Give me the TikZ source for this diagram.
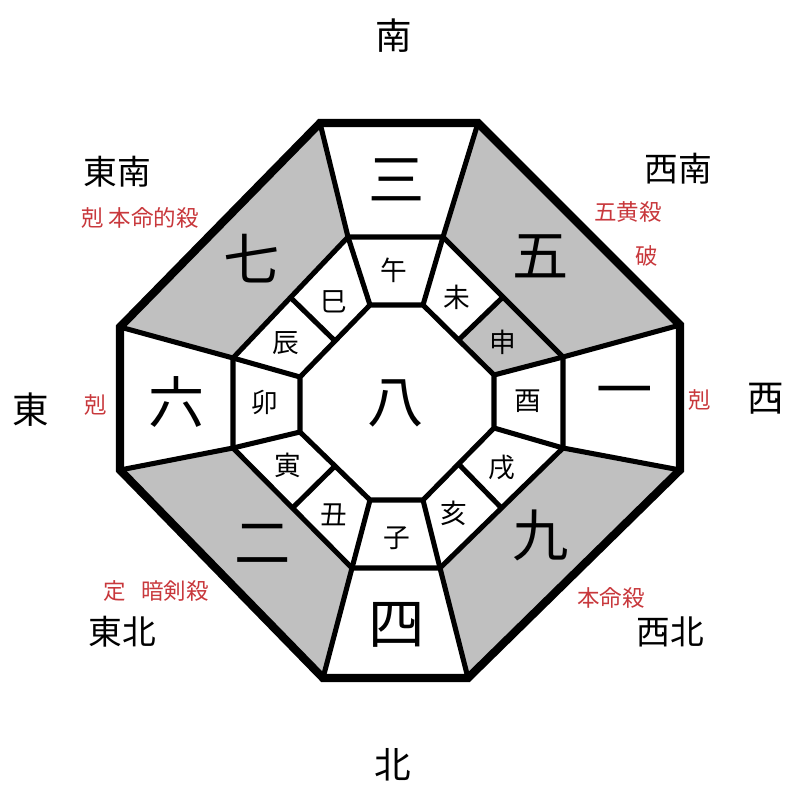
\documentclass[tikz,border=0pt]{standalone}
\usepackage{fontspec}
\setmainfont{Noto Sans CJK JP}
\usepackage{xcolor}
\usepackage{tikz}
\usetikzlibrary{calc}
\definecolor{sectorgray}{HTML}{C0C0C0}
\definecolor{warnred}{HTML}{C8383C}

\begin{document}
\begin{tikzpicture}[x=0.025cm,y=-0.025cm,
  dir/.style={font=\fontsize{26}{26}\selectfont,inner sep=0pt},
  corner/.style={font=\fontsize{24}{24}\selectfont,inner sep=0pt},
  star/.style={font=\fontsize{40}{40}\selectfont,inner sep=0pt},
  branch/.style={font=\fontsize{19}{19}\selectfont,inner sep=0pt},
  note/.style={font=\fontsize{16}{16}\selectfont,text=warnred,inner sep=0pt},
  rim/.style={line width=5.8pt},
  wall/.style={line width=3.6pt},
]
\useasboundingbox (0,0) rectangle (800,800);

% outer octagon
\coordinate (o1) at (320,123); \coordinate (o2) at (478,123);
\coordinate (o3) at (680,325); \coordinate (o4) at (680,470);
\coordinate (o5) at (468,678); \coordinate (o6) at (323,678);
\coordinate (o7) at (120,470); \coordinate (o8) at (120,327);
% middle octagon
\coordinate (m1) at (348,237); \coordinate (m2) at (443,237);
\coordinate (m3) at (563,357); \coordinate (m4) at (563,448);
\coordinate (m5) at (440,568); \coordinate (m6) at (352,568);
\coordinate (m7) at (233,448); \coordinate (m8) at (233,358);
% inner octagon
\coordinate (i1) at (370,305); \coordinate (i2) at (423,305);
\coordinate (i3) at (494,375); \coordinate (i4) at (494,428);
\coordinate (i5) at (423,500); \coordinate (i6) at (370,500);
\coordinate (i7) at (300,432); \coordinate (i8) at (300,377);

% shaded sectors
\fill[sectorgray] (o8)--(o1)--(m1)--(m8)--cycle;
\fill[sectorgray] (o2)--(o3)--(m3)--(m2)--cycle;
\fill[sectorgray] (o4)--(o5)--(m5)--(m4)--cycle;
\fill[sectorgray] (o6)--(o7)--(m7)--(m6)--cycle;
\fill[sectorgray] ($(i2)!0.5!(i3)$)--($(m2)!0.5!(m3)$)--(m3)--(i3)--cycle;

% ring walls
\draw[wall] (m1)--(m2)--(m3)--(m4)--(m5)--(m6)--(m7)--(m8)--cycle;
\draw[wall] (i1)--(i2)--(i3)--(i4)--(i5)--(i6)--(i7)--(i8)--cycle;
\foreach \k in {1,...,8}
  \draw[wall] (o\k)--(m\k) (m\k)--(i\k);
\foreach \k/\j in {2/3,4/5,6/7,8/1}
  \draw[wall] ($(i\k)!0.5!(i\j)$)--($(m\k)!0.5!(m\j)$);
\draw[rim] (o1)--(o2)--(o3)--(o4)--(o5)--(o6)--(o7)--(o8)--cycle;

% stars
\node[star] (s8) at (396,403) {八};
\node[star] (s3) at (397,180) {三};
\node[star] (s5) at (541,256) {五};
\node[star] (s1) at (625,398) {一};
\node[star] (s9) at (541,535) {九};
\node[star] (s4) at (397,625) {四};
\node[star] (s2) at (263,544) {二};
\node[star] (s6) at (177,402) {六};
\node[star] (s7) at (252,259) {七};

% branches
\node[branch] (b1) at (394,270) {午};
\node[branch] (b2) at (457,297) {未};
\node[branch] (b3) at (503,342) {申};
\node[branch] (b4) at (528,401) {酉};
\node[branch] (b5) at (502,468) {戌};
\node[branch] (b6) at (454,513) {亥};
\node[branch] (b7) at (397,538) {子};
\node[branch] (b8) at (334,515) {丑};
\node[branch] (b9) at (288,465) {寅};
\node[branch] (b10) at (265,402) {卯};
\node[branch] (b11) at (286,343) {辰};
\node[branch] (b12) at (334,302) {巳};

% directions
\node[dir] (south) at (394,36) {南};
\node[dir] (north) at (393,765) {北};
\node[dir] (east) at (31,410) {東};
\node[dir] (west) at (766,399) {西};
\node[corner] (se) at (117,172) {東南};
\node[corner] (sw) at (678,169) {西南};
\node[corner] (ne) at (122,632) {東北};
\node[corner] (nw) at (670,632) {西北};

% notes
\node[note] (n1) at (140,218) {剋 本命的殺};
\node[note] (n2) at (628,212) {五黄殺};
\node[note] (n3) at (647,256) {破};
\node[note] (n4) at (96,405) {剋};
\node[note] (n5) at (700,400) {剋};
\node[note] (n6) at (156,591) {定\hspace{0.7em}暗剣殺};
\node[note] (n7) at (611,598) {本命殺};
\end{tikzpicture}
\end{document}
